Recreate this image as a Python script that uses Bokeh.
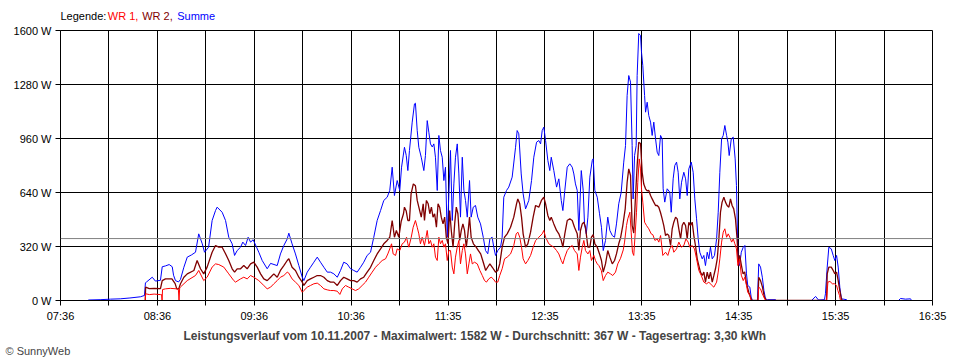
from bokeh.plotting import figure
from bokeh.layouts import column
from bokeh.models import FixedTicker, Span, Title
from bokeh.core.properties import value
from bokeh.embed import file_html
from bokeh.resources import INLINE

FONT = "Liberation Sans"

# time axis: minutes after 07:36
x_ticks = list(range(0, 541, 30))
x_labels = ["07:36", "", "08:36", "", "09:36", "", "10:36", "", "11:35", "",
            "12:35", "", "13:35", "", "14:35", "", "15:35", "", "16:35"]
y_ticks = [0, 320, 640, 960, 1280, 1600]
y_labels = ["0 W", "320 W", "640 W", "960 W", "1280 W", "1600 W"]
average_w = 367
title_text = ("Leistungsverlauf vom 10.11.2007 - Maximalwert: 1582 W - "
              "Durchschnitt: 367 W - Tagesertrag: 3,30 kWh")
legend_words = ["Legende:", "WR 1,", "WR 2,", "Summe"]
legend_colors = ["black", "#FF0000", "#800000", "#0000FF"]

# (minutes after 07:36, W)
summe = [
    (17.0, 0), (17.5, 3), (25, 5), (31, 8), (37, 10), (43, 15), (49.5, 22), (52.0, 30),
    (52.6, 105), (53.3, 110), (56.8, 138), (58.8, 115), (61.9, 120), (63.0, 200), (65.0, 205),
    (67.3, 213), (69.2, 200), (70.0, 150), (71.2, 118), (73.1, 110), (74.3, 125), (76.4, 197),
    (78.5, 257), (81.1, 270), (83.6, 286), (85.6, 395), (87.8, 336), (89.2, 286), (91.7, 316),
    (93.9, 474), (96.0, 533), (97.0, 553), (100.1, 523), (102.2, 474), (104.2, 375), (106.3, 336),
    (107.8, 267), (109.4, 296), (111.5, 316), (112.9, 346), (114.6, 326), (116.2, 375), (117.7, 346),
    (119.3, 360), (121.4, 316), (122.8, 286), (124.9, 237), (128.0, 188), (130.1, 220), (134.2, 207),
    (136.2, 276), (138.3, 326), (140.4, 365), (141.4, 399), (143.4, 336), (145.5, 276), (147.6, 207),
    (149.7, 138), (150.7, 118), (152.8, 168), (154.8, 197), (156.9, 227), (159.0, 257), (161.0, 227),
    (163.1, 197), (165.2, 168), (167.2, 168), (169.3, 158), (171.4, 138), (173.4, 178), (175.4, 227),
    (177.5, 217), (179.6, 188), (181.6, 178), (183.7, 168), (185.8, 197), (187.8, 227), (189.9, 267),
    (192.0, 286), (194.0, 375), (196.1, 474), (198.2, 533), (200.2, 593), (202.3, 612), (203.9, 652),
    (205.4, 790), (206.8, 622), (208.5, 711), (210.1, 652), (211.2, 790), (213.0, 908), (214.1, 860),
    (215.1, 770), (216.1, 889), (217.8, 1057), (219.2, 1165), (219.8, 1169), (220.9, 1007), (221.9, 908),
    (223.4, 849), (225.0, 770), (226.0, 859), (227.1, 1066), (228.1, 997), (229.1, 928), (230.2, 910),
    (231.2, 928), (232.2, 849), (233.3, 652), (234.3, 978), (235.3, 889), (236.4, 849), (237.4, 711),
    (238.4, 790), (239.5, 375), (240.5, 632), (241.5, 889), (242.6, 474), (243.6, 691), (244.6, 849),
    (245.7, 928), (246.7, 750), (247.7, 494), (248.8, 849), (249.8, 652), (250.8, 593), (251.9, 494),
    (253.3, 711), (254.3, 494), (255.6, 553), (257.0, 563), (258.4, 494), (260.1, 454), (261.8, 375),
    (263.2, 296), (264.6, 277), (265.9, 365), (267.3, 375), (268.3, 316), (269.4, 267), (270.8, 296),
    (272.5, 316), (273.5, 375), (274.5, 612), (276.2, 652), (277.6, 672), (279.7, 731), (281.8, 908),
    (282.8, 1007), (283.8, 988), (285.3, 750), (286.5, 632), (288.0, 543), (290.0, 593), (291.7, 711),
    (293.1, 849), (294.8, 938), (296.2, 948), (297.3, 928), (298.3, 1007), (299.3, 1027), (300.4, 948),
    (301.8, 830), (303.0, 770), (303.9, 849), (305.5, 770), (307.2, 672), (308.6, 721), (310.1, 593),
    (311.1, 533), (312.3, 652), (313.8, 790), (315.4, 810), (316.9, 790), (317.9, 750), (318.9, 691),
    (320.0, 652), (321.0, 415), (322.5, 770), (323.7, 652), (324.5, 454), (325.6, 395), (326.6, 494),
    (327.8, 731), (329.3, 830), (329.9, 840), (330.9, 652), (332.4, 612), (333.8, 514), (335.0, 434),
    (336.1, 296), (337.5, 356), (338.9, 494), (340.2, 415), (341.7, 385), (343.1, 375), (344.3, 454),
    (345.7, 573), (347.2, 640), (348.8, 820), (349.9, 918), (350.9, 1215), (351.9, 1333), (353.0, 1294),
    (354.0, 918), (354.6, 602), (355.5, 859), (356.5, 918), (357.1, 1333), (358.1, 1582), (359.2, 1570),
    (359.8, 1471), (360.6, 1392), (361.7, 1215), (362.3, 1116), (363.3, 1175), (364.3, 1096), (365.4, 1057),
    (366.4, 978), (367.4, 1057), (368.5, 958), (369.5, 879), (370.5, 859), (371.6, 978), (372.6, 958),
    (373.2, 662), (374.2, 583), (375.7, 662), (377.3, 642), (378.2, 523), (379.4, 721), (380.4, 800),
    (381.5, 820), (382.5, 760), (383.5, 602), (384.6, 701), (386.0, 760), (387.1, 721), (388.1, 622),
    (389.1, 780), (390.6, 820), (391.8, 760), (392.8, 602), (393.9, 484), (394.9, 365), (395.9, 286),
    (397.4, 247), (398.4, 267), (399.4, 207), (400.5, 286), (401.5, 247), (402.5, 316), (403.6, 247),
    (405.0, 267), (406.3, 365), (407.3, 523), (408.3, 760), (409.4, 958), (410.4, 978), (411.4, 1037),
    (412.5, 978), (413.3, 938), (414.1, 859), (415.4, 958), (416.6, 968), (417.8, 839), (418.6, 681),
    (419.5, 267), (420.5, 207), (421.6, 286), (422.8, 316), (423.8, 326), (424.8, 158), (425.6, 89),
    (426.9, 79), (427.7, 20), (428.5, 0), (431.6, 0), (432.4, 217), (433.5, 198), (434.6, 138),
    (435.6, 59), (436.6, 10), (437.8, 5), (442.8, 5), (443.4, 0), (465.1, 0), (467.6, 24), (469.4, 3),
    (473.1, 5), (473.7, 40), (474.8, 198), (475.8, 316), (477.3, 306), (478.5, 267), (479.5, 237),
    (480.6, 267), (481.6, 198), (482.6, 79), (483.6, 10), (486.7, 5), (487.3, 0), (519.0, 0),
    (520.2, 12), (523.3, 8), (526.4, 10), (527.0, 0),
]

wr1 = [
    (52.5, 0), (52.7, 40), (55, 35), (58, 38), (61.9, 35), (62.6, 35), (62.9, 0), (63.2, 65),
    (65, 69), (68, 72), (72, 69), (73.0, 65), (73.4, 0), (73.8, 75), (74.3, 80), (78.5, 118),
    (83.6, 148), (85.6, 178), (88.7, 118), (90.8, 138), (93.9, 198), (96.0, 217), (98.0, 213),
    (101.1, 198), (104.2, 158), (107.3, 118), (108.4, 109), (111.5, 128), (113.5, 138), (115.6, 128),
    (117.7, 148), (119.7, 138), (122.8, 118), (125.9, 89), (128.0, 69), (130.1, 79), (132.1, 99),
    (134.2, 118), (136.2, 138), (138.3, 148), (140.4, 168), (141.4, 162), (143.4, 128), (145.5, 109),
    (147.6, 89), (149.7, 49), (150.7, 59), (152.8, 79), (154.8, 89), (156.9, 99), (159.0, 103),
    (161.0, 89), (163.1, 69), (165.2, 63), (167.2, 59), (169.3, 59), (171.4, 55), (173.0, 36),
    (174.5, 69), (176.5, 89), (178.5, 79), (180.6, 69), (182.7, 59), (184.7, 69), (186.8, 89),
    (188.9, 109), (190.9, 138), (193.0, 168), (195.1, 197), (197.1, 217), (199.2, 237), (201.3, 247),
    (202.7, 276), (203.9, 306), (205.0, 336), (206.0, 276), (207.5, 267), (208.5, 306), (210.1, 296),
    (211.6, 336), (213.0, 346), (214.3, 375), (215.1, 336), (215.7, 316), (217.2, 375), (218.4, 434),
    (219.8, 474), (220.9, 434), (221.9, 395), (222.9, 336), (224.0, 375), (225.4, 326), (227.1, 415),
    (228.1, 336), (229.1, 356), (230.2, 316), (231.2, 336), (232.2, 257), (233.3, 237), (234.3, 375),
    (235.3, 336), (236.4, 356), (237.4, 316), (238.4, 336), (239.5, 237), (240.5, 296), (241.5, 296),
    (242.6, 198), (243.6, 158), (244.6, 257), (245.7, 316), (246.7, 356), (247.7, 217), (248.8, 296),
    (249.8, 336), (250.8, 276), (251.9, 158), (252.9, 217), (253.9, 276), (255.0, 217), (256.4, 227),
    (258.1, 217), (259.7, 178), (261.2, 148), (262.6, 118), (263.8, 109), (265.2, 128), (266.7, 138),
    (268.0, 128), (269.4, 109), (270.8, 109), (272.0, 148), (273.5, 188), (275.0, 247), (276.6, 257),
    (278.7, 276), (280.7, 326), (282.2, 395), (283.2, 405), (284.4, 375), (285.5, 316), (286.5, 247),
    (288.0, 217), (289.4, 237), (291.1, 267), (292.7, 316), (294.2, 355), (296.2, 375), (298.3, 395),
    (299.3, 415), (300.4, 375), (302.4, 336), (303.9, 326), (305.5, 316), (307.2, 296), (308.6, 276),
    (310.1, 237), (311.1, 217), (312.3, 257), (313.8, 296), (315.4, 316), (316.9, 326), (318.3, 296),
    (320.0, 276), (321.0, 178), (322.0, 257), (323.1, 316), (324.1, 356), (325.1, 296), (326.6, 276),
    (327.8, 296), (328.8, 237), (330.3, 267), (331.3, 237), (332.4, 217), (333.4, 207), (334.9, 178),
    (336.1, 118), (337.5, 148), (338.9, 168), (340.6, 158), (342.0, 148), (343.7, 168), (345.1, 217),
    (346.8, 250), (348.5, 300), (349.3, 346), (350.5, 444), (351.3, 484), (352.6, 523), (353.4, 405),
    (354.2, 286), (355.0, 267), (355.9, 400), (356.7, 523), (357.5, 700), (358.4, 839), (359.2, 780),
    (359.8, 662), (360.6, 583), (361.7, 464), (362.9, 444), (364.3, 425), (365.8, 395), (366.8, 390),
    (368.1, 356), (369.5, 365), (370.5, 346), (371.6, 385), (373.0, 267), (374.7, 286), (376.1, 267),
    (377.3, 306), (378.8, 326), (379.8, 286), (381.5, 306), (382.9, 346), (384.4, 316), (386.0, 326),
    (387.3, 365), (388.7, 346), (389.7, 316), (391.2, 326), (392.6, 306), (393.9, 247), (395.3, 178),
    (396.8, 148), (398.4, 109), (400.1, 99), (401.5, 109), (403.0, 93), (404.6, 79), (406.3, 109),
    (407.3, 168), (408.3, 247), (409.4, 346), (410.4, 405), (411.4, 425), (412.5, 375), (413.5, 395),
    (414.5, 375), (415.6, 346), (416.6, 365), (417.6, 336), (418.6, 306), (419.5, 207), (420.5, 247),
    (421.6, 150), (422.8, 118), (423.8, 138), (424.8, 89), (425.6, 49), (426.9, 30), (427.7, 0),
    (431.9, 0), (432.4, 79), (433.5, 69), (434.6, 40), (435.6, 20), (436.6, 0), (474.4, 0),
    (475.2, 109), (476.5, 113), (478.0, 99), (479.4, 99), (480.6, 89), (481.4, 59), (482.4, 30),
    (483.0, 0),
]

wr2 = [
    (52.5, 0), (52.7, 79), (55, 70), (58, 72), (61.9, 70), (63.0, 118), (65, 128), (69, 128),
    (71.0, 100), (72, 69), (73.2, 69), (74.3, 99), (76.4, 138), (78.5, 158), (82.6, 178), (84.6, 237),
    (86.7, 188), (88.7, 158), (90.8, 198), (93.9, 286), (96.0, 326), (98.0, 316), (100.1, 316),
    (102.2, 277), (104.2, 237), (106.3, 188), (107.8, 168), (109.4, 188), (111.5, 188), (113.5, 207),
    (115.6, 188), (117.7, 217), (119.7, 227), (121.8, 198), (123.9, 158), (125.9, 128), (128.0, 118),
    (130.1, 138), (132.1, 158), (134.2, 138), (136.2, 178), (138.3, 207), (140.4, 237), (141.4, 247),
    (143.4, 197), (145.5, 178), (147.6, 138), (149.7, 109), (150.7, 89), (152.8, 118), (154.8, 128),
    (156.9, 138), (159.0, 148), (161.0, 148), (163.1, 138), (165.2, 118), (167.2, 109), (169.3, 109),
    (171.4, 89), (173.4, 118), (175.4, 138), (177.5, 128), (179.6, 118), (181.6, 118), (183.7, 109),
    (185.8, 128), (187.8, 138), (189.9, 168), (192.0, 197), (194.0, 237), (196.1, 276), (198.2, 306),
    (200.2, 336), (202.3, 356), (203.9, 375), (205.4, 474), (206.8, 375), (208.0, 415), (209.5, 375),
    (211.0, 470), (212.4, 514), (213.0, 553), (214.1, 530), (215.1, 474), (216.1, 474), (217.1, 632),
    (218.5, 691), (219.8, 680), (220.9, 593), (221.9, 553), (223.4, 494), (224.6, 573), (225.4, 474),
    (226.6, 593), (227.7, 573), (228.7, 514), (229.7, 553), (230.7, 494), (231.7, 514), (232.8, 434),
    (233.8, 573), (234.8, 553), (235.8, 494), (236.9, 454), (237.9, 494), (238.9, 375), (240.0, 336),
    (241.0, 533), (242.0, 415), (243.1, 316), (244.1, 454), (245.1, 553), (246.1, 514), (247.2, 356),
    (248.2, 415), (249.2, 454), (250.2, 415), (251.3, 316), (252.3, 395), (253.3, 494), (254.3, 375),
    (255.7, 336), (257.4, 316), (258.8, 296), (260.2, 276), (261.8, 227), (263.3, 178), (264.5, 197),
    (265.9, 217), (267.4, 197), (269.4, 168), (270.8, 178), (272.0, 217), (273.5, 316), (275.0, 375),
    (276.6, 395), (278.7, 434), (280.7, 494), (282.4, 573), (283.2, 602), (284.4, 573), (285.5, 494),
    (286.5, 395), (288.0, 316), (289.4, 336), (291.1, 405), (292.7, 494), (294.2, 563), (296.2, 553),
    (297.8, 593), (299.3, 612), (300.4, 573), (301.8, 504), (303.0, 474), (303.9, 494), (305.5, 454),
    (307.2, 415), (308.6, 395), (310.1, 356), (311.1, 316), (312.3, 395), (313.8, 474), (315.4, 484),
    (316.9, 474), (318.3, 434), (320.0, 395), (321.0, 296), (322.0, 415), (323.1, 454), (324.1, 464),
    (325.1, 434), (326.6, 316), (327.8, 316), (328.8, 375), (329.9, 390), (330.9, 336), (332.4, 316),
    (333.8, 276), (335.0, 237), (336.1, 168), (337.5, 217), (338.9, 296), (340.2, 257), (341.7, 217),
    (343.1, 237), (344.3, 276), (345.7, 336), (346.8, 370), (348.2, 444), (349.7, 543), (350.9, 701),
    (351.9, 780), (353.0, 741), (354.0, 444), (355.0, 400), (356.0, 602), (357.1, 800), (358.1, 938),
    (359.2, 930), (360.2, 760), (361.2, 690), (362.3, 662), (363.3, 650), (364.3, 652), (365.4, 622),
    (366.4, 602), (367.4, 583), (368.5, 563), (369.5, 563), (370.5, 553), (371.6, 520), (372.6, 484),
    (373.6, 444), (374.7, 385), (375.7, 395), (376.7, 385), (377.8, 326), (378.8, 425), (379.8, 464),
    (380.9, 494), (381.9, 484), (382.9, 425), (384.0, 365), (385.0, 444), (386.0, 464), (387.1, 444),
    (388.1, 365), (389.1, 464), (390.1, 444), (391.2, 464), (392.2, 385), (393.2, 326), (394.3, 247),
    (395.3, 207), (396.3, 168), (397.4, 148), (398.4, 168), (399.4, 109), (400.5, 168), (401.5, 128),
    (402.5, 168), (403.6, 109), (404.6, 148), (405.6, 188), (406.7, 247), (407.7, 365), (408.7, 523),
    (409.7, 583), (410.8, 612), (411.8, 583), (412.8, 563), (413.9, 553), (414.9, 602), (415.9, 563),
    (416.9, 543), (418.0, 484), (419.0, 365), (419.7, 227), (420.6, 267), (421.7, 207), (422.7, 158),
    (423.7, 170), (424.8, 100), (426.2, 49), (427.3, 20), (428.0, 0), (431.9, 0), (432.4, 138),
    (433.5, 118), (434.7, 79), (435.9, 20), (437.1, 0), (474.4, 0), (474.8, 158), (475.8, 198),
    (477.3, 198), (478.5, 178), (479.5, 158), (480.6, 168), (481.6, 118), (482.6, 59), (483.6, 10),
    (484.2, 0),
]

# ---- legend strip above the chart; its frame is aligned with the chart frame,
#      so it shares the chart's time range ----
TOP_H = 22
top = figure(width=960, height=TOP_H, x_range=(0, 540), y_range=(0, TOP_H),
             output_backend="svg", toolbar_location=None,
             min_border_left=60, min_border_right=28, min_border_top=0, min_border_bottom=0)
top.axis.visible = False
top.xgrid.visible = False
top.ygrid.visible = False
top.outline_line_color = None
legend_x = [0, 29.3, 50.6, 72.3]  # start of each word, in minutes of the time axis
top.text(x=legend_x, y=[TOP_H - 15] * 4, text=legend_words,
         text_color=legend_colors, text_font=value(FONT), text_font_size="11px",
         text_baseline="middle", text_align="left")

# ---- main chart ----
p = figure(width=960, height=360 - TOP_H, x_range=(0, 540), y_range=(0, 1600),
           output_backend="svg", toolbar_location=None,
           min_border_left=60, min_border_right=28, min_border_top=30 - TOP_H, min_border_bottom=60)
p.outline_line_color = "black"

p.xaxis.ticker = FixedTicker(ticks=x_ticks)
p.xaxis.major_label_overrides = {t: lab for t, lab in zip(x_ticks, x_labels)}
p.yaxis.ticker = FixedTicker(ticks=y_ticks)
p.yaxis.major_label_overrides = {t: lab for t, lab in zip(y_ticks, y_labels)}
for ax in (p.xaxis[0], p.yaxis[0]):
    ax.axis_line_color = "black"
    ax.major_tick_line_color = "black"
    ax.major_tick_in = 0
    ax.major_tick_out = 5
    ax.minor_tick_line_color = None
    ax.major_label_text_font = FONT
    ax.major_label_text_font_size = "11px"
    ax.major_label_text_color = "black"
    ax.major_label_standoff = 4

p.xgrid.ticker = FixedTicker(ticks=x_ticks)
p.ygrid.ticker = FixedTicker(ticks=y_ticks)
for g in (p.xgrid[0], p.ygrid[0]):
    g.grid_line_color = "black"
    g.grid_line_alpha = 1.0
    g.grid_line_width = 1

def unzip(pairs):
    return [a for a, _ in pairs], [b for _, b in pairs]

ts, ws = unzip(summe)
t1, w1 = unzip(wr1)
t2, w2 = unzip(wr2)
p.line(ts, ws, line_color="#0000FF", line_width=1)
p.line(t2, w2, line_color="#800000", line_width=1.3)
p.line(t1, w1, line_color="#FF0000", line_width=1)

p.add_layout(Span(location=average_w, dimension="width", line_color="#808080", line_width=1))

p.add_layout(Title(text=title_text, align="left", offset=123, standoff=5, text_font=FONT,
                   text_font_size="12px", text_font_style="bold"), "below")
p.add_layout(Title(text="\u00a9 SunnyWeb", align="left", offset=-55, standoff=-5, text_font=FONT,
                   text_font_size="11px", text_font_style="normal"), "below")

open("out.html", "w").write(file_html(column(top, p, spacing=0), INLINE))
